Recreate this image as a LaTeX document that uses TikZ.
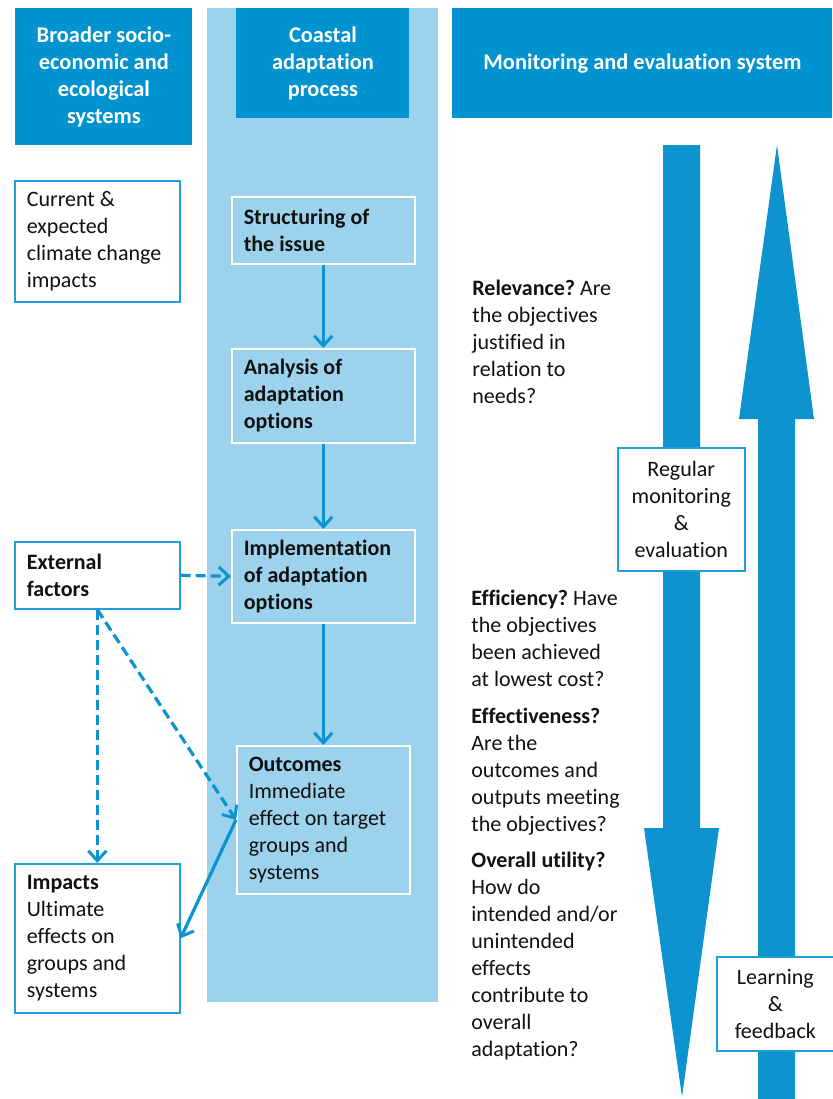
\documentclass[tikz,border=0pt]{standalone}
\usepackage{fontspec}
\setmainfont{Carlito}[Ligatures=NoCommon]
\usetikzlibrary{arrows.meta,positioning}
\definecolor{Deep}{HTML}{0093D0}
\definecolor{Pale}{HTML}{9CD2EB}
\definecolor{Edge}{HTML}{1FA0DC}
\definecolor{Flow}{HTML}{0E93D1}
\definecolor{Ink}{HTML}{111111}
\frenchspacing

\begin{document}
\begin{tikzpicture}[x=0.5pt,y=-0.5pt,
  font=\fontsize{11}{13.5}\selectfont,text=Ink,
  head/.style={fill=Deep,text=white,font=\fontsize{11.2}{13.5}\selectfont\bfseries,align=center,anchor=north west,inner sep=0pt},
  sidebox/.style={draw=Edge,line width=0.8pt,fill=white,align=flush left,anchor=north west,inner xsep=6pt,text width=70.5pt},
  stepbox/.style={draw=white,line width=0.8pt,fill=Pale,align=flush left,anchor=north west,inner xsep=6pt,text width=79.5pt,font=\fontsize{11}{13.5}\selectfont\bfseries},
  loopbox/.style={draw=Edge,line width=0.8pt,fill=white,align=center,anchor=north west,inner sep=0pt},
  question/.style={align=flush left,anchor=north west,inner sep=0pt},
  flow/.style={Flow,line width=1.6pt,-{Straight Barb[length=5pt,width=9pt,line width=1.5pt]}},
  hint/.style={flow,dash pattern=on 5pt off 2.5pt}]
\useasboundingbox (0,0) rectangle (832,1099);
% process column
\fill[Pale] (207,8) rectangle (438,1002);
% headers
\node[head,minimum width=88.5pt,minimum height=68.5pt] (hsys) at (15,8) {Broader socio-\\economic and\\ecological\\systems};
\node[head,minimum width=86.5pt,minimum height=55pt] (hproc) at (236,8) {Coastal\\adaptation\\process};
\node[head,minimum width=190pt,minimum height=55pt] (hmon) at (452,8) {Monitoring and evaluation system};
% left boxes
\node[sidebox,minimum height=60.5pt] (clim) at (14,180) {Current \&\\expected\\climate change\\impacts};
\node[sidebox,minimum height=33.5pt,font=\fontsize{11}{13.5}\selectfont\bfseries] (ext) at (14,541) {External\\factors};
\node[sidebox,minimum height=74.5pt] (imp) at (14,863) {\textbf{Impacts}\\Ultimate\\effects on\\groups and\\systems};
% process steps
\node[stepbox,minimum height=33.5pt] (struct) at (231,196) {Structuring of\\the issue};
\node[stepbox,minimum height=47pt] (anal) at (231,348) {Analysis of\\adaptation\\options};
\node[stepbox,minimum height=46.5pt] (impl) at (231,529) {Implementation\\of adaptation\\options};
\node[stepbox,minimum height=74pt,text width=74.5pt,font=\fontsize{11}{13.5}\selectfont] (outc) at (236,745) {\textbf{Outcomes}\\Immediate\\effect on target\\groups and\\systems};
% connectors
\draw[flow] (struct.south) -- (anal.north);
\draw[flow] (anal.south) -- (impl.north);
\draw[flow] (impl.south) -- (outc.north);
\draw[hint] (ext.east) -- (impl.west);
\draw[hint] (ext.south) -- (imp.north);
\draw[hint] (ext.south) -- (outc.west);
\draw[flow] (outc.west) -- (imp.east);
% big arrows
\fill[Flow] (663,145) -- (700,145) -- (700,828) -- (719,828) -- (682,1097) -- (644,828) -- (663,828) -- cycle;
\fill[Flow] (777,145) -- (814,419) -- (795,419) -- (795,1099) -- (758,1099) -- (758,419) -- (739,419) -- cycle;
\node[loopbox,minimum width=63.5pt,minimum height=61.5pt] (reg) at (617,447) {Regular\\monitoring\\\&\\evaluation};
\node[loopbox,minimum width=58.5pt,minimum height=47pt] (learn) at (716,956) {Learning\\\&\\feedback};
% criteria
\node[question] (rel) at (472,280) {\textbf{Relevance?} Are\\the objectives\\justified in\\relation to\\needs?};
\node[question] (effi) at (471,590) {\textbf{Efficiency?} Have\\the objectives\\been achieved\\at lowest cost?};
\node[question] (effe) at (471,708) {\textbf{Effectiveness?}\\Are the\\outcomes and\\outputs meeting\\the objectives?};
\node[question] (over) at (471,852) {\textbf{Overall utility?}\\How do\\intended and/or\\unintended\\effects\\contribute to\\overall\\adaptation?};
\end{tikzpicture}
\end{document}
